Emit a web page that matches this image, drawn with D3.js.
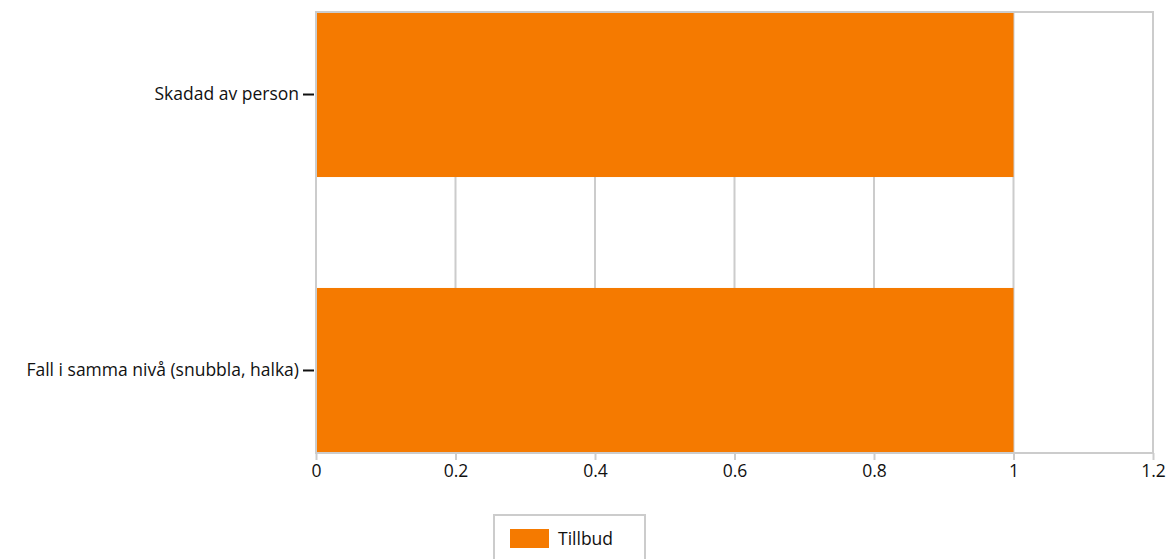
<!DOCTYPE html>
<html>
<head>
<meta charset="utf-8">
<script src="https://cdn.jsdelivr.net/npm/d3@7"></script>
<style>
  body { margin: 0; background: #fff; }
  text { font-family: "Open Sans", "Noto Sans", sans-serif; fill: #111; }
</style>
</head>
<body>
<div id="chart"></div>
<script>
// Data
var categories = ["Skadad av person", "Fall i samma nivå (snubbla, halka)"];
var tillbud = [1, 1];
var xTicks = [0, 0.2, 0.4, 0.6, 0.8, 1, 1.2];
var seriesName = "Tillbud";

var svgWidth = 1170;
var svgHeight = 559;
var margin = { top: 12, right: 17, bottom: 106, left: 316 };
var width = svgWidth - margin.left - margin.right;
var height = svgHeight - margin.top - margin.bottom;

var svg = d3.select("#chart").append("svg")
  .attr("width", svgWidth)
  .attr("height", svgHeight);

var chartGroup = svg.append("g")
  .attr("transform", `translate(${margin.left}, ${margin.top})`);

var xScale = d3.scaleLinear().domain([0, 1.2]).range([0, width]);
var yScale = d3.scaleBand().domain(categories).range([0, height])
  .paddingInner(0.402).paddingOuter(0);

// gridlines
chartGroup.selectAll(".grid")
  .data(xTicks)
  .enter()
  .append("line")
  .attr("x1", d => xScale(d))
  .attr("x2", d => xScale(d))
  .attr("y1", 0)
  .attr("y2", height)
  .attr("stroke", "#cccccc")
  .attr("stroke-width", 2);

// bars
chartGroup.selectAll(".bar")
  .data(tillbud)
  .enter()
  .append("rect")
  .attr("x", xScale(0))
  .attr("y", (d, i) => yScale(categories[i]))
  .attr("width", d => xScale(d) - xScale(0))
  .attr("height", yScale.bandwidth())
  .attr("fill", "#f57a00");

// plot border
chartGroup.append("rect")
  .attr("x", 0).attr("y", 0)
  .attr("width", width).attr("height", height)
  .attr("fill", "none")
  .attr("stroke", "#cccccc")
  .attr("stroke-width", 2);

// x axis
var bottomAxis = d3.axisBottom(xScale).tickValues(xTicks).tickSize(7).tickPadding(5)
  .tickFormat(d => String(d));
var xAxis = chartGroup.append("g")
  .attr("transform", `translate(0, ${height})`)
  .call(bottomAxis);
xAxis.select(".domain").remove();
xAxis.selectAll("line").attr("stroke", "#cccccc").attr("stroke-width", 2);
xAxis.selectAll("text").style("font-size", "17.5px").style("font-family", "'Open Sans', sans-serif").attr("fill", "#111");

// y axis
var leftAxis = d3.axisLeft(yScale).tickSize(11).tickPadding(4);
var yAxis = chartGroup.append("g")
  .attr("transform", "translate(-2, 0)")
  .call(leftAxis);
yAxis.select(".domain").remove();
yAxis.selectAll("line").attr("stroke", "#111").attr("stroke-width", 2);
yAxis.selectAll("text").style("font-size", "17.5px").style("font-family", "'Open Sans', sans-serif").attr("fill", "#111");

// legend
var legend = svg.append("g").attr("transform", "translate(494, 515)");
legend.append("rect")
  .attr("x", 0).attr("y", 0)
  .attr("width", 151).attr("height", 60)
  .attr("fill", "#fff")
  .attr("stroke", "#cccccc")
  .attr("stroke-width", 2);
legend.append("rect")
  .attr("x", 16).attr("y", 14)
  .attr("width", 39).attr("height", 19)
  .attr("fill", "#f57a00");
legend.append("text")
  .attr("x", 64).attr("y", 30)
  .style("font-size", "17.5px")
  .text(seriesName);
</script>
</body>
</html>
